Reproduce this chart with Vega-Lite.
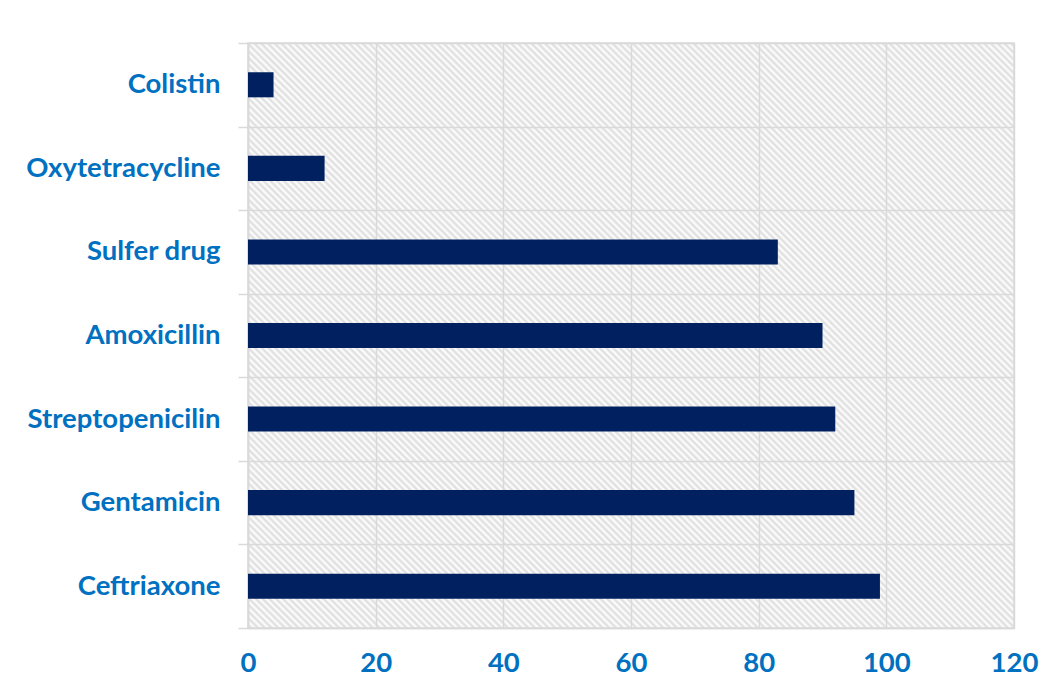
{
  "$schema": "https://vega.github.io/schema/vega-lite/v6.json",
  "width": 766,
  "height": 585,
  "autosize": {"type": "none"},
  "padding": {"left": 248, "top": 43, "right": 37, "bottom": 62},
  "background": "#ffffff",
  "data": {
    "values": [
      {"drug": "Colistin", "rate": 4},
      {"drug": "Oxytetracycline", "rate": 12},
      {"drug": "Sulfer drug", "rate": 83},
      {"drug": "Amoxicillin", "rate": 90},
      {"drug": "Streptopenicilin", "rate": 92},
      {"drug": "Gentamicin", "rate": 95},
      {"drug": "Ceftriaxone", "rate": 99}
    ]
  },
  "mark": {"type": "bar", "color": "#002060"},
  "encoding": {
    "y": {
      "field": "drug",
      "type": "nominal",
      "sort": "x",
      "title": null,
      "scale": {"paddingInner": 0.7, "paddingOuter": 0.35},
      "axis": {
        "domain": true,
        "domainColor": "#d9d9d9",
        "domainWidth": 1.5,
        "ticks": true,
        "tickColor": "#d9d9d9",
        "tickWidth": 1.5,
        "tickSize": 10,
        "bandPosition": 3.3334,
        "tickOffset": -29.25,
        "tickExtra": true,
        "grid": true,
        "gridColor": "#d9d9d9",
        "gridWidth": 1.5,
        "labelFont": "Lato",
        "labelFontWeight": "bold",
        "labelFontSize": 27.5,
        "labelColor": "#0070C0",
        "labelPadding": 18,
        "labelOffset": 29.25,
        "labelLimit": 400
      }
    },
    "x": {
      "field": "rate",
      "type": "quantitative",
      "title": null,
      "scale": {"domain": [0, 120]},
      "axis": {
        "values": [0, 20, 40, 60, 80, 100, 120],
        "domain": true,
        "domainColor": "#d9d9d9",
        "domainWidth": 1.5,
        "ticks": false,
        "grid": true,
        "gridColor": "#d9d9d9",
        "gridWidth": 1.5,
        "labelFont": "Lato",
        "labelFontWeight": "bold",
        "labelFontSize": 27.5,
        "labelColor": "#0070C0",
        "labelPadding": 21,
        "labelFlush": false
      }
    }
  },
  "config": {
    "view": {
      "stroke": "#d9d9d9",
      "strokeWidth": 1.5,
      "fill": {
        "gradient": "linear",
        "x1": 0, "y1": 1, "x2": 1.114, "y2": 0.149,
        "stops": [
{"offset":0,"color":"#fff"},{"offset":0.0025,"color":"#dcdcdc"},{"offset":0.005,"color":"#fff"},{"offset":0.0075,"color":"#dcdcdc"},
{"offset":0.01,"color":"#fff"},{"offset":0.0125,"color":"#dcdcdc"},{"offset":0.015,"color":"#fff"},{"offset":0.0175,"color":"#dcdcdc"},
{"offset":0.02,"color":"#fff"},{"offset":0.0225,"color":"#dcdcdc"},{"offset":0.025,"color":"#fff"},{"offset":0.0275,"color":"#dcdcdc"},
{"offset":0.03,"color":"#fff"},{"offset":0.0325,"color":"#dcdcdc"},{"offset":0.035,"color":"#fff"},{"offset":0.0375,"color":"#dcdcdc"},
{"offset":0.04,"color":"#fff"},{"offset":0.0425,"color":"#dcdcdc"},{"offset":0.045,"color":"#fff"},{"offset":0.0475,"color":"#dcdcdc"},
{"offset":0.05,"color":"#fff"},{"offset":0.0525,"color":"#dcdcdc"},{"offset":0.055,"color":"#fff"},{"offset":0.0575,"color":"#dcdcdc"},
{"offset":0.06,"color":"#fff"},{"offset":0.0625,"color":"#dcdcdc"},{"offset":0.065,"color":"#fff"},{"offset":0.0675,"color":"#dcdcdc"},
{"offset":0.07,"color":"#fff"},{"offset":0.0725,"color":"#dcdcdc"},{"offset":0.075,"color":"#fff"},{"offset":0.0775,"color":"#dcdcdc"},
{"offset":0.08,"color":"#fff"},{"offset":0.0825,"color":"#dcdcdc"},{"offset":0.085,"color":"#fff"},{"offset":0.0875,"color":"#dcdcdc"},
{"offset":0.09,"color":"#fff"},{"offset":0.0925,"color":"#dcdcdc"},{"offset":0.095,"color":"#fff"},{"offset":0.0975,"color":"#dcdcdc"},
{"offset":0.10,"color":"#fff"},{"offset":0.1025,"color":"#dcdcdc"},{"offset":0.105,"color":"#fff"},{"offset":0.1075,"color":"#dcdcdc"},
{"offset":0.11,"color":"#fff"},{"offset":0.1125,"color":"#dcdcdc"},{"offset":0.115,"color":"#fff"},{"offset":0.1175,"color":"#dcdcdc"},
{"offset":0.12,"color":"#fff"},{"offset":0.1225,"color":"#dcdcdc"},{"offset":0.125,"color":"#fff"},{"offset":0.1275,"color":"#dcdcdc"},
{"offset":0.13,"color":"#fff"},{"offset":0.1325,"color":"#dcdcdc"},{"offset":0.135,"color":"#fff"},{"offset":0.1375,"color":"#dcdcdc"},
{"offset":0.14,"color":"#fff"},{"offset":0.1425,"color":"#dcdcdc"},{"offset":0.145,"color":"#fff"},{"offset":0.1475,"color":"#dcdcdc"},
{"offset":0.15,"color":"#fff"},{"offset":0.1525,"color":"#dcdcdc"},{"offset":0.155,"color":"#fff"},{"offset":0.1575,"color":"#dcdcdc"},
{"offset":0.16,"color":"#fff"},{"offset":0.1625,"color":"#dcdcdc"},{"offset":0.165,"color":"#fff"},{"offset":0.1675,"color":"#dcdcdc"},
{"offset":0.17,"color":"#fff"},{"offset":0.1725,"color":"#dcdcdc"},{"offset":0.175,"color":"#fff"},{"offset":0.1775,"color":"#dcdcdc"},
{"offset":0.18,"color":"#fff"},{"offset":0.1825,"color":"#dcdcdc"},{"offset":0.185,"color":"#fff"},{"offset":0.1875,"color":"#dcdcdc"},
{"offset":0.19,"color":"#fff"},{"offset":0.1925,"color":"#dcdcdc"},{"offset":0.195,"color":"#fff"},{"offset":0.1975,"color":"#dcdcdc"},
{"offset":0.20,"color":"#fff"},{"offset":0.2025,"color":"#dcdcdc"},{"offset":0.205,"color":"#fff"},{"offset":0.2075,"color":"#dcdcdc"},
{"offset":0.21,"color":"#fff"},{"offset":0.2125,"color":"#dcdcdc"},{"offset":0.215,"color":"#fff"},{"offset":0.2175,"color":"#dcdcdc"},
{"offset":0.22,"color":"#fff"},{"offset":0.2225,"color":"#dcdcdc"},{"offset":0.225,"color":"#fff"},{"offset":0.2275,"color":"#dcdcdc"},
{"offset":0.23,"color":"#fff"},{"offset":0.2325,"color":"#dcdcdc"},{"offset":0.235,"color":"#fff"},{"offset":0.2375,"color":"#dcdcdc"},
{"offset":0.24,"color":"#fff"},{"offset":0.2425,"color":"#dcdcdc"},{"offset":0.245,"color":"#fff"},{"offset":0.2475,"color":"#dcdcdc"},
{"offset":0.25,"color":"#fff"},{"offset":0.2525,"color":"#dcdcdc"},{"offset":0.255,"color":"#fff"},{"offset":0.2575,"color":"#dcdcdc"},
{"offset":0.26,"color":"#fff"},{"offset":0.2625,"color":"#dcdcdc"},{"offset":0.265,"color":"#fff"},{"offset":0.2675,"color":"#dcdcdc"},
{"offset":0.27,"color":"#fff"},{"offset":0.2725,"color":"#dcdcdc"},{"offset":0.275,"color":"#fff"},{"offset":0.2775,"color":"#dcdcdc"},
{"offset":0.28,"color":"#fff"},{"offset":0.2825,"color":"#dcdcdc"},{"offset":0.285,"color":"#fff"},{"offset":0.2875,"color":"#dcdcdc"},
{"offset":0.29,"color":"#fff"},{"offset":0.2925,"color":"#dcdcdc"},{"offset":0.295,"color":"#fff"},{"offset":0.2975,"color":"#dcdcdc"},
{"offset":0.30,"color":"#fff"},{"offset":0.3025,"color":"#dcdcdc"},{"offset":0.305,"color":"#fff"},{"offset":0.3075,"color":"#dcdcdc"},
{"offset":0.31,"color":"#fff"},{"offset":0.3125,"color":"#dcdcdc"},{"offset":0.315,"color":"#fff"},{"offset":0.3175,"color":"#dcdcdc"},
{"offset":0.32,"color":"#fff"},{"offset":0.3225,"color":"#dcdcdc"},{"offset":0.325,"color":"#fff"},{"offset":0.3275,"color":"#dcdcdc"},
{"offset":0.33,"color":"#fff"},{"offset":0.3325,"color":"#dcdcdc"},{"offset":0.335,"color":"#fff"},{"offset":0.3375,"color":"#dcdcdc"},
{"offset":0.34,"color":"#fff"},{"offset":0.3425,"color":"#dcdcdc"},{"offset":0.345,"color":"#fff"},{"offset":0.3475,"color":"#dcdcdc"},
{"offset":0.35,"color":"#fff"},{"offset":0.3525,"color":"#dcdcdc"},{"offset":0.355,"color":"#fff"},{"offset":0.3575,"color":"#dcdcdc"},
{"offset":0.36,"color":"#fff"},{"offset":0.3625,"color":"#dcdcdc"},{"offset":0.365,"color":"#fff"},{"offset":0.3675,"color":"#dcdcdc"},
{"offset":0.37,"color":"#fff"},{"offset":0.3725,"color":"#dcdcdc"},{"offset":0.375,"color":"#fff"},{"offset":0.3775,"color":"#dcdcdc"},
{"offset":0.38,"color":"#fff"},{"offset":0.3825,"color":"#dcdcdc"},{"offset":0.385,"color":"#fff"},{"offset":0.3875,"color":"#dcdcdc"},
{"offset":0.39,"color":"#fff"},{"offset":0.3925,"color":"#dcdcdc"},{"offset":0.395,"color":"#fff"},{"offset":0.3975,"color":"#dcdcdc"},
{"offset":0.40,"color":"#fff"},{"offset":0.4025,"color":"#dcdcdc"},{"offset":0.405,"color":"#fff"},{"offset":0.4075,"color":"#dcdcdc"},
{"offset":0.41,"color":"#fff"},{"offset":0.4125,"color":"#dcdcdc"},{"offset":0.415,"color":"#fff"},{"offset":0.4175,"color":"#dcdcdc"},
{"offset":0.42,"color":"#fff"},{"offset":0.4225,"color":"#dcdcdc"},{"offset":0.425,"color":"#fff"},{"offset":0.4275,"color":"#dcdcdc"},
{"offset":0.43,"color":"#fff"},{"offset":0.4325,"color":"#dcdcdc"},{"offset":0.435,"color":"#fff"},{"offset":0.4375,"color":"#dcdcdc"},
{"offset":0.44,"color":"#fff"},{"offset":0.4425,"color":"#dcdcdc"},{"offset":0.445,"color":"#fff"},{"offset":0.4475,"color":"#dcdcdc"},
{"offset":0.45,"color":"#fff"},{"offset":0.4525,"color":"#dcdcdc"},{"offset":0.455,"color":"#fff"},{"offset":0.4575,"color":"#dcdcdc"},
{"offset":0.46,"color":"#fff"},{"offset":0.4625,"color":"#dcdcdc"},{"offset":0.465,"color":"#fff"},{"offset":0.4675,"color":"#dcdcdc"},
{"offset":0.47,"color":"#fff"},{"offset":0.4725,"color":"#dcdcdc"},{"offset":0.475,"color":"#fff"},{"offset":0.4775,"color":"#dcdcdc"},
{"offset":0.48,"color":"#fff"},{"offset":0.4825,"color":"#dcdcdc"},{"offset":0.485,"color":"#fff"},{"offset":0.4875,"color":"#dcdcdc"},
{"offset":0.49,"color":"#fff"},{"offset":0.4925,"color":"#dcdcdc"},{"offset":0.495,"color":"#fff"},{"offset":0.4975,"color":"#dcdcdc"},
{"offset":0.50,"color":"#fff"},{"offset":0.5025,"color":"#dcdcdc"},{"offset":0.505,"color":"#fff"},{"offset":0.5075,"color":"#dcdcdc"},
{"offset":0.51,"color":"#fff"},{"offset":0.5125,"color":"#dcdcdc"},{"offset":0.515,"color":"#fff"},{"offset":0.5175,"color":"#dcdcdc"},
{"offset":0.52,"color":"#fff"},{"offset":0.5225,"color":"#dcdcdc"},{"offset":0.525,"color":"#fff"},{"offset":0.5275,"color":"#dcdcdc"},
{"offset":0.53,"color":"#fff"},{"offset":0.5325,"color":"#dcdcdc"},{"offset":0.535,"color":"#fff"},{"offset":0.5375,"color":"#dcdcdc"},
{"offset":0.54,"color":"#fff"},{"offset":0.5425,"color":"#dcdcdc"},{"offset":0.545,"color":"#fff"},{"offset":0.5475,"color":"#dcdcdc"},
{"offset":0.55,"color":"#fff"},{"offset":0.5525,"color":"#dcdcdc"},{"offset":0.555,"color":"#fff"},{"offset":0.5575,"color":"#dcdcdc"},
{"offset":0.56,"color":"#fff"},{"offset":0.5625,"color":"#dcdcdc"},{"offset":0.565,"color":"#fff"},{"offset":0.5675,"color":"#dcdcdc"},
{"offset":0.57,"color":"#fff"},{"offset":0.5725,"color":"#dcdcdc"},{"offset":0.575,"color":"#fff"},{"offset":0.5775,"color":"#dcdcdc"},
{"offset":0.58,"color":"#fff"},{"offset":0.5825,"color":"#dcdcdc"},{"offset":0.585,"color":"#fff"},{"offset":0.5875,"color":"#dcdcdc"},
{"offset":0.59,"color":"#fff"},{"offset":0.5925,"color":"#dcdcdc"},{"offset":0.595,"color":"#fff"},{"offset":0.5975,"color":"#dcdcdc"},
{"offset":0.60,"color":"#fff"},{"offset":0.6025,"color":"#dcdcdc"},{"offset":0.605,"color":"#fff"},{"offset":0.6075,"color":"#dcdcdc"},
{"offset":0.61,"color":"#fff"},{"offset":0.6125,"color":"#dcdcdc"},{"offset":0.615,"color":"#fff"},{"offset":0.6175,"color":"#dcdcdc"},
{"offset":0.62,"color":"#fff"},{"offset":0.6225,"color":"#dcdcdc"},{"offset":0.625,"color":"#fff"},{"offset":0.6275,"color":"#dcdcdc"},
{"offset":0.63,"color":"#fff"},{"offset":0.6325,"color":"#dcdcdc"},{"offset":0.635,"color":"#fff"},{"offset":0.6375,"color":"#dcdcdc"},
{"offset":0.64,"color":"#fff"},{"offset":0.6425,"color":"#dcdcdc"},{"offset":0.645,"color":"#fff"},{"offset":0.6475,"color":"#dcdcdc"},
{"offset":0.65,"color":"#fff"},{"offset":0.6525,"color":"#dcdcdc"},{"offset":0.655,"color":"#fff"},{"offset":0.6575,"color":"#dcdcdc"},
{"offset":0.66,"color":"#fff"},{"offset":0.6625,"color":"#dcdcdc"},{"offset":0.665,"color":"#fff"},{"offset":0.6675,"color":"#dcdcdc"},
{"offset":0.67,"color":"#fff"},{"offset":0.6725,"color":"#dcdcdc"},{"offset":0.675,"color":"#fff"},{"offset":0.6775,"color":"#dcdcdc"},
{"offset":0.68,"color":"#fff"},{"offset":0.6825,"color":"#dcdcdc"},{"offset":0.685,"color":"#fff"},{"offset":0.6875,"color":"#dcdcdc"},
{"offset":0.69,"color":"#fff"},{"offset":0.6925,"color":"#dcdcdc"},{"offset":0.695,"color":"#fff"},{"offset":0.6975,"color":"#dcdcdc"},
{"offset":0.70,"color":"#fff"},{"offset":0.7025,"color":"#dcdcdc"},{"offset":0.705,"color":"#fff"},{"offset":0.7075,"color":"#dcdcdc"},
{"offset":0.71,"color":"#fff"},{"offset":0.7125,"color":"#dcdcdc"},{"offset":0.715,"color":"#fff"},{"offset":0.7175,"color":"#dcdcdc"},
{"offset":0.72,"color":"#fff"},{"offset":0.7225,"color":"#dcdcdc"},{"offset":0.725,"color":"#fff"},{"offset":0.7275,"color":"#dcdcdc"},
{"offset":0.73,"color":"#fff"},{"offset":0.7325,"color":"#dcdcdc"},{"offset":0.735,"color":"#fff"},{"offset":0.7375,"color":"#dcdcdc"},
{"offset":0.74,"color":"#fff"},{"offset":0.7425,"color":"#dcdcdc"},{"offset":0.745,"color":"#fff"},{"offset":0.7475,"color":"#dcdcdc"},
{"offset":0.75,"color":"#fff"},{"offset":0.7525,"color":"#dcdcdc"},{"offset":0.755,"color":"#fff"},{"offset":0.7575,"color":"#dcdcdc"},
{"offset":0.76,"color":"#fff"},{"offset":0.7625,"color":"#dcdcdc"},{"offset":0.765,"color":"#fff"},{"offset":0.7675,"color":"#dcdcdc"},
{"offset":0.77,"color":"#fff"},{"offset":0.7725,"color":"#dcdcdc"},{"offset":0.775,"color":"#fff"},{"offset":0.7775,"color":"#dcdcdc"},
{"offset":0.78,"color":"#fff"},{"offset":0.7825,"color":"#dcdcdc"},{"offset":0.785,"color":"#fff"},{"offset":0.7875,"color":"#dcdcdc"},
{"offset":0.79,"color":"#fff"},{"offset":0.7925,"color":"#dcdcdc"},{"offset":0.795,"color":"#fff"},{"offset":0.7975,"color":"#dcdcdc"},
{"offset":0.80,"color":"#fff"},{"offset":0.8025,"color":"#dcdcdc"},{"offset":0.805,"color":"#fff"},{"offset":0.8075,"color":"#dcdcdc"},
{"offset":0.81,"color":"#fff"},{"offset":0.8125,"color":"#dcdcdc"},{"offset":0.815,"color":"#fff"},{"offset":0.8175,"color":"#dcdcdc"},
{"offset":0.82,"color":"#fff"},{"offset":0.8225,"color":"#dcdcdc"},{"offset":0.825,"color":"#fff"},{"offset":0.8275,"color":"#dcdcdc"},
{"offset":0.83,"color":"#fff"},{"offset":0.8325,"color":"#dcdcdc"},{"offset":0.835,"color":"#fff"},{"offset":0.8375,"color":"#dcdcdc"},
{"offset":0.84,"color":"#fff"},{"offset":0.8425,"color":"#dcdcdc"},{"offset":0.845,"color":"#fff"},{"offset":0.8475,"color":"#dcdcdc"},
{"offset":0.85,"color":"#fff"},{"offset":0.8525,"color":"#dcdcdc"},{"offset":0.855,"color":"#fff"},{"offset":0.8575,"color":"#dcdcdc"},
{"offset":0.86,"color":"#fff"},{"offset":0.8625,"color":"#dcdcdc"},{"offset":0.865,"color":"#fff"},{"offset":0.8675,"color":"#dcdcdc"},
{"offset":0.87,"color":"#fff"},{"offset":0.8725,"color":"#dcdcdc"},{"offset":0.875,"color":"#fff"},{"offset":0.8775,"color":"#dcdcdc"},
{"offset":0.88,"color":"#fff"},{"offset":0.8825,"color":"#dcdcdc"},{"offset":0.885,"color":"#fff"},{"offset":0.8875,"color":"#dcdcdc"},
{"offset":0.89,"color":"#fff"},{"offset":0.8925,"color":"#dcdcdc"},{"offset":0.895,"color":"#fff"},{"offset":0.8975,"color":"#dcdcdc"},
{"offset":0.90,"color":"#fff"},{"offset":0.9025,"color":"#dcdcdc"},{"offset":0.905,"color":"#fff"},{"offset":0.9075,"color":"#dcdcdc"},
{"offset":0.91,"color":"#fff"},{"offset":0.9125,"color":"#dcdcdc"},{"offset":0.915,"color":"#fff"},{"offset":0.9175,"color":"#dcdcdc"},
{"offset":0.92,"color":"#fff"},{"offset":0.9225,"color":"#dcdcdc"},{"offset":0.925,"color":"#fff"},{"offset":0.9275,"color":"#dcdcdc"},
{"offset":0.93,"color":"#fff"},{"offset":0.9325,"color":"#dcdcdc"},{"offset":0.935,"color":"#fff"},{"offset":0.9375,"color":"#dcdcdc"},
{"offset":0.94,"color":"#fff"},{"offset":0.9425,"color":"#dcdcdc"},{"offset":0.945,"color":"#fff"},{"offset":0.9475,"color":"#dcdcdc"},
{"offset":0.95,"color":"#fff"},{"offset":0.9525,"color":"#dcdcdc"},{"offset":0.955,"color":"#fff"},{"offset":0.9575,"color":"#dcdcdc"},
{"offset":0.96,"color":"#fff"},{"offset":0.9625,"color":"#dcdcdc"},{"offset":0.965,"color":"#fff"},{"offset":0.9675,"color":"#dcdcdc"},
{"offset":0.97,"color":"#fff"},{"offset":0.9725,"color":"#dcdcdc"},{"offset":0.975,"color":"#fff"},{"offset":0.9775,"color":"#dcdcdc"},
{"offset":0.98,"color":"#fff"},{"offset":0.9825,"color":"#dcdcdc"},{"offset":0.985,"color":"#fff"},{"offset":0.9875,"color":"#dcdcdc"},
{"offset":0.99,"color":"#fff"},{"offset":0.9925,"color":"#dcdcdc"},{"offset":0.995,"color":"#fff"},{"offset":0.9975,"color":"#dcdcdc"},
{"offset":1,"color":"#fff"}
        ]
      }
    }
  }
}
